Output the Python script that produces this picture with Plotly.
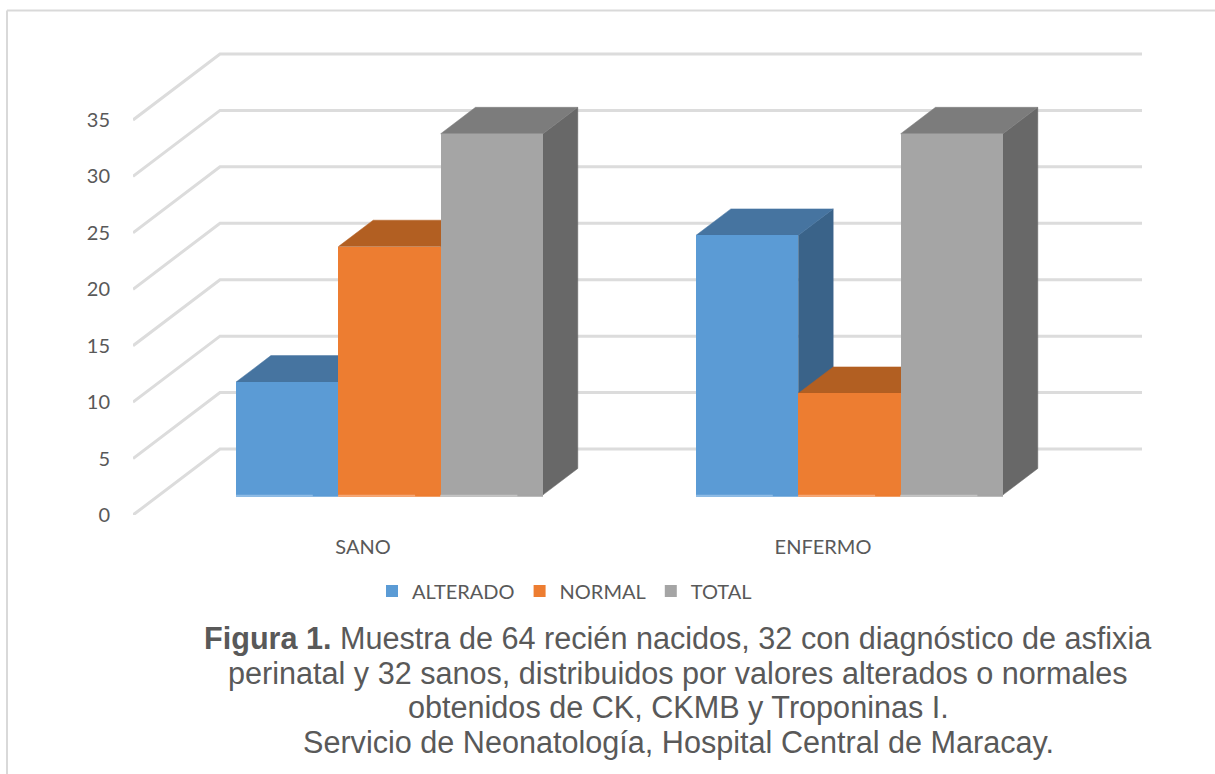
import plotly.graph_objects as go

# Chart data
categories = ["SANO", "ENFERMO"]
series_names = ["ALTERADO", "NORMAL", "TOTAL"]
alterado = [10, 23]
normal = [22, 9]
total = [32, 32]
y_ticks = [0, 5, 10, 15, 20, 25, 30, 35]
caption_lines = [
    "<b>Figura 1.</b> Muestra de 64 recién nacidos, 32 con diagnóstico de asfixia",
    "perinatal y 32 sanos, distribuidos por valores alterados o normales",
    "obtenidos de CK, CKMB y Troponinas I.",
    "Servicio de Neonatología, Hospital Central de Maracay.",
]

# Colours per series: front, top and side faces
front_colors = ["#5b9bd5", "#ed7d31", "#a5a5a5"]
top_colors = ["#4674a0", "#b25f22", "#7c7c7c"]
side_colors = ["#3a6389", "#9e5420", "#686868"]
strip_colors = ["#8fbce6", "#f5a877", "#c4c4c4"]
GRID = "#dcdcdc"
TEXT = "#595959"

# Figure and plot rectangle, in pixels
W, H = 1215, 774
LEFT, FLOOR, RIGHT, TOP = 133, 515, 1142, 41
X_PX = 460.0        # pixels per category
Y_PX = 11.286       # pixels per value unit

# Oblique projection: full depth of the box expressed in data units
DEPTH_X = 87 / X_PX
DEPTH_Y = 66 / Y_PX
BAR_NEAR, BAR_FAR = 0.305, 0.705
BAR_W = 102.3 / X_PX

x_range = [0, (RIGHT - LEFT) / X_PX]
y_range = [0, (FLOOR - TOP) / Y_PX]


def project(x, v, d):
    """Map a point (category position, value, depth 0..1) onto the axes."""
    return x + DEPTH_X * d, v + DEPTH_Y * d


def polygon(corners, color):
    xs, ys = zip(*[project(*c) for c in corners])
    return go.Scatter(
        x=list(xs) + [xs[0]], y=list(ys) + [ys[0]], mode="lines", fill="toself",
        fillcolor=color, line=dict(color=color, width=0.5),
        hoverinfo="skip", showlegend=False,
    )


fig = go.Figure()

# Side wall and back wall gridlines
for v in y_ticks:
    px0, py0 = project(0, v, 0)
    px1, py1 = project(0, v, 1)
    fig.add_trace(go.Scatter(
        x=[px0, px1, x_range[1]], y=[py0, py1, py1], mode="lines",
        line=dict(color=GRID, width=3), hoverinfo="skip", showlegend=False,
    ))

values = [alterado, normal, total]

# Top and side faces, painted left to right so nearer bars overlap
for c in range(len(categories)):
    for s in range(len(series_names)):
        v = values[s][c]
        x0 = c + 0.5 + (s - 1.5) * BAR_W
        x1 = x0 + BAR_W
        fig.add_trace(polygon(
            [(x1, 0, BAR_NEAR), (x1, 0, BAR_FAR), (x1, v, BAR_FAR), (x1, v, BAR_NEAR)],
            side_colors[s]))
        fig.add_trace(polygon(
            [(x0, v, BAR_NEAR), (x0, v, BAR_FAR), (x1, v, BAR_FAR), (x1, v, BAR_NEAR)],
            top_colors[s]))

# Front faces as real bars on an overlaid pair of axes, above the other faces
shift_x, base_y = project(0, 0, BAR_NEAR)
for s, name in enumerate(series_names):
    fig.add_trace(go.Bar(
        name=name,
        x=[c + 0.5 + (s - 1) * BAR_W + shift_x for c in range(len(categories))],
        y=values[s], base=base_y, width=BAR_W,
        marker=dict(color=front_colors[s], line=dict(width=0)),
        xaxis="x2", yaxis="y2",
    ))

# Pale lip along the foot of each front face
LIP = 0.17
for c in range(len(categories)):
    for s in range(len(series_names)):
        x0 = c + 0.5 + (s - 1.5) * BAR_W + shift_x
        for x_end, col in ((x0 + BAR_W, front_colors[s]), (x0 + 0.75 * BAR_W, strip_colors[s])):
            fig.add_trace(go.Scatter(
                x=[x0, x_end], y=[base_y - LIP / 2] * 2, mode="lines",
                line=dict(color=col, width=2), hoverinfo="skip", showlegend=False,
                xaxis="x2", yaxis="y2",
            ))

plot_h = FLOOR - TOP


def px_x(p):
    return (p - LEFT) / (RIGHT - LEFT)


def px_y(p):
    return (FLOOR - p) / plot_h


# Caption lines
caption_y = [638, 673, 707, 742]
annotations = [
    dict(text=t, xref="paper", yref="paper", x=px_x(678), y=px_y(py),
         xanchor="center", yanchor="middle", showarrow=False,
         font=dict(family="Liberation Sans", size=30.6, color=TEXT))
    for t, py in zip(caption_lines, caption_y)
]

# Thin frame along the top and left of the chart area
frame = dict(color="#d9d9d9", width=2)
shapes = [
    dict(type="line", xref="paper", yref="paper", x0=px_x(7), x1=px_x(1215),
         y0=px_y(10.5), y1=px_y(10.5), line=frame),
    dict(type="line", xref="paper", yref="paper", x0=px_x(7), x1=px_x(7),
         y0=px_y(10.5), y1=px_y(774), line=frame),
]

font = dict(family="Lato", size=20, color=TEXT)
fig.update_layout(
    width=W, height=H, autosize=False,
    margin=dict(l=LEFT, r=W - RIGHT, t=TOP, b=H - FLOOR, pad=0),
    paper_bgcolor="white", plot_bgcolor="rgba(0,0,0,0)",
    barmode="overlay", bargap=0, font=font,
    annotations=annotations, shapes=shapes,
    xaxis=dict(range=x_range, tickmode="array", tickvals=[0.5, 1.5], ticktext=categories,
               showgrid=False, zeroline=False, showline=False, ticks="outside",
               tickcolor="rgba(0,0,0,0)", ticklen=14, tickfont=font),
    yaxis=dict(range=y_range, tickmode="array", tickvals=y_ticks,
               showgrid=False, zeroline=False, showline=False, ticks="outside",
               tickcolor="rgba(0,0,0,0)", ticklen=18, tickfont=font),
    xaxis2=dict(range=x_range, overlaying="x", visible=False),
    yaxis2=dict(range=y_range, overlaying="y", visible=False),
    legend=dict(orientation="h", x=px_x(372), xanchor="left",
                y=px_y(591), yanchor="middle", font=font, bgcolor="rgba(0,0,0,0)",
                traceorder="normal", itemclick=False, itemdoubleclick=False),
)

fig.write_html("out.html", config=dict(displayModeBar=False))
